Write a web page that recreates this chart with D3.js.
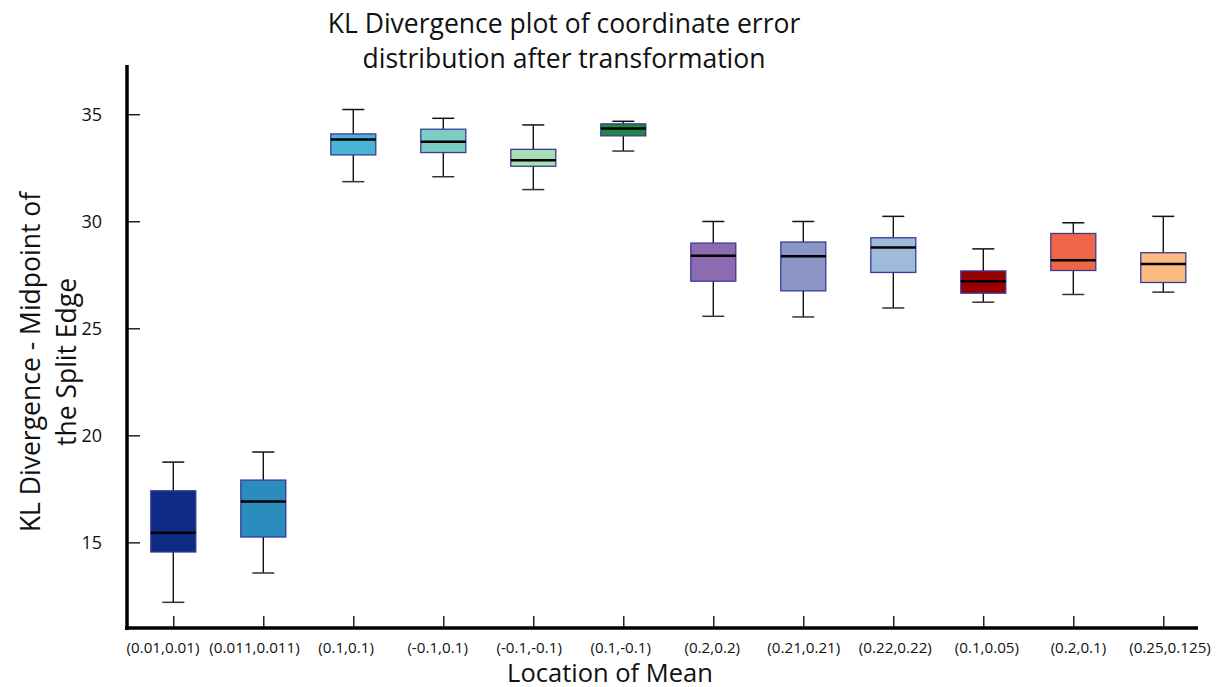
<!DOCTYPE html>
<html>
<head>
<meta charset="utf-8">
<script src="https://cdn.jsdelivr.net/npm/d3@7"></script>
<style>
  html, body { margin: 0; padding: 0; background: #fff; }
  svg { display: block; font-family: "Open Sans", sans-serif; }
</style>
</head>
<body>
<svg id="chart" width="1219" height="687"></svg>
<script>
// Location of the mean for each run
const categories = ["(0.01,0.01)", "(0.011,0.011)", "(0.1,0.1)", "(-0.1,0.1)", "(-0.1,-0.1)", "(0.1,-0.1)",
                    "(0.2,0.2)", "(0.21,0.21)", "(0.22,0.22)", "(0.1,0.05)", "(0.2,0.1)", "(0.25,0.125)"];
// Five-number summaries of the KL divergence
const whiskerLow  = [12.2, 13.57, 31.85, 32.08, 31.48, 33.28, 25.56, 25.53, 25.95, 26.22, 26.58, 26.69];
const q1          = [14.55, 15.25, 33.10, 33.21, 32.57, 33.99, 27.20, 26.75, 27.61, 26.64, 27.70, 27.14];
const median      = [15.45, 16.91, 33.82, 33.72, 32.85, 34.33, 28.39, 28.37, 28.78, 27.20, 28.18, 28.00];
const q3          = [17.41, 17.91, 34.08, 34.30, 33.36, 34.55, 28.98, 29.03, 29.23, 27.68, 29.43, 28.53];
const whiskerHigh = [18.75, 19.22, 35.22, 34.81, 34.50, 34.67, 29.99, 29.99, 30.23, 28.71, 29.93, 30.23];
const fills = ["#0d2a84", "#2b8cbe", "#4bb3d3", "#7ccdc4", "#a8ddb5", "#238443",
               "#8c6bb1", "#8c96c6", "#9ebcda", "#990000", "#ef6548", "#fdbb84"];
const yTicks = [15, 20, 25, 30, 35];

const svg = d3.select("#chart");

const x = d3.scalePoint().domain(categories).range([173.3, 1163.3]);
// category labels are spread slightly wider than the ticks
const xLabel = d3.scalePoint().domain(categories).range([163, 1170]);
const y = d3.scaleLinear().domain([11, 37.3]).range([628, 65]);

const boxW = 45, capW = 22;

const rows = categories.map((c, i) => ({
  c, lo: whiskerLow[i], q1: q1[i], med: median[i], q3: q3[i], hi: whiskerHigh[i], fill: fills[i]
}));

// Axes
const yAxis = svg.append("g").attr("transform", "translate(127,0)")
  .call(d3.axisRight(y).tickValues(yTicks).tickSize(13).tickFormat(""));
yAxis.select(".domain").remove();
yAxis.selectAll(".tick line").attr("stroke", "#000").attr("stroke-width", 1.3);

svg.append("g").selectAll("text").data(yTicks).join("text")
  .attr("x", 102).attr("y", d => y(d)).attr("dy", "0.35em")
  .attr("text-anchor", "end").attr("font-size", 18).attr("fill", "#111")
  .text(d => d);

const xAxis = svg.append("g").attr("transform", "translate(0,628)")
  .call(d3.axisTop(x).tickSize(12).tickFormat(""));
xAxis.select(".domain").remove();
xAxis.selectAll(".tick line").attr("stroke", "#000").attr("stroke-width", 1.3);

svg.append("g").selectAll("text").data(categories).join("text")
  .attr("x", d => xLabel(d)).attr("y", 652.5)
  .attr("text-anchor", "middle").attr("font-size", 15.2).attr("fill", "#111")
  .text(d => d);

svg.append("line").attr("x1", 127).attr("x2", 127).attr("y1", 65).attr("y2", 630)
  .attr("stroke", "#000").attr("stroke-width", 3.5);
svg.append("line").attr("x1", 125).attr("x2", 1198).attr("y1", 628).attr("y2", 628)
  .attr("stroke", "#000").attr("stroke-width", 3.5);

// Boxes
const g = svg.append("g").selectAll("g").data(rows).join("g")
  .attr("transform", d => `translate(${x(d.c)},0)`);

g.append("line").attr("x1", 0).attr("x2", 0)
  .attr("y1", d => y(d.hi)).attr("y2", d => y(d.q3))
  .attr("stroke", "#111").attr("stroke-width", 1.4);
g.append("line").attr("x1", 0).attr("x2", 0)
  .attr("y1", d => y(d.q1)).attr("y2", d => y(d.lo))
  .attr("stroke", "#111").attr("stroke-width", 1.4);
g.append("line").attr("x1", -capW / 2).attr("x2", capW / 2)
  .attr("y1", d => y(d.hi)).attr("y2", d => y(d.hi))
  .attr("stroke", "#111").attr("stroke-width", 1.5);
g.append("line").attr("x1", -capW / 2).attr("x2", capW / 2)
  .attr("y1", d => y(d.lo)).attr("y2", d => y(d.lo))
  .attr("stroke", "#333").attr("stroke-width", 1.5);

g.append("rect").attr("x", -boxW / 2).attr("width", boxW)
  .attr("y", d => y(d.q3)).attr("height", d => y(d.q1) - y(d.q3))
  .attr("fill", d => d.fill).attr("stroke", "#3a3a96").attr("stroke-width", 1.3);

g.append("line").attr("x1", -boxW / 2).attr("x2", boxW / 2)
  .attr("y1", d => y(d.med)).attr("y2", d => y(d.med))
  .attr("stroke", "#000").attr("stroke-width", 2.5);

// Titles
const title = svg.append("text").attr("text-anchor", "middle")
  .attr("font-size", 26.5).attr("fill", "#111");
title.append("tspan").attr("x", 564).attr("y", 33).text("KL Divergence plot of coordinate error");
title.append("tspan").attr("x", 564).attr("y", 68).text("distribution after transformation");

svg.append("text").attr("x", 610).attr("y", 682).attr("text-anchor", "middle")
  .attr("font-size", 25.5).attr("fill", "#111").text("Location of Mean");

const yTitle = svg.append("text").attr("transform", "translate(0,362) rotate(-90)")
  .attr("text-anchor", "middle").attr("font-size", 26.5).attr("fill", "#111");
yTitle.append("tspan").attr("x", 0).attr("y", 40).text("KL Divergence - Midpoint of");
yTitle.append("tspan").attr("x", 0).attr("y", 76).text("the Split Edge");
</script>
</body>
</html>
